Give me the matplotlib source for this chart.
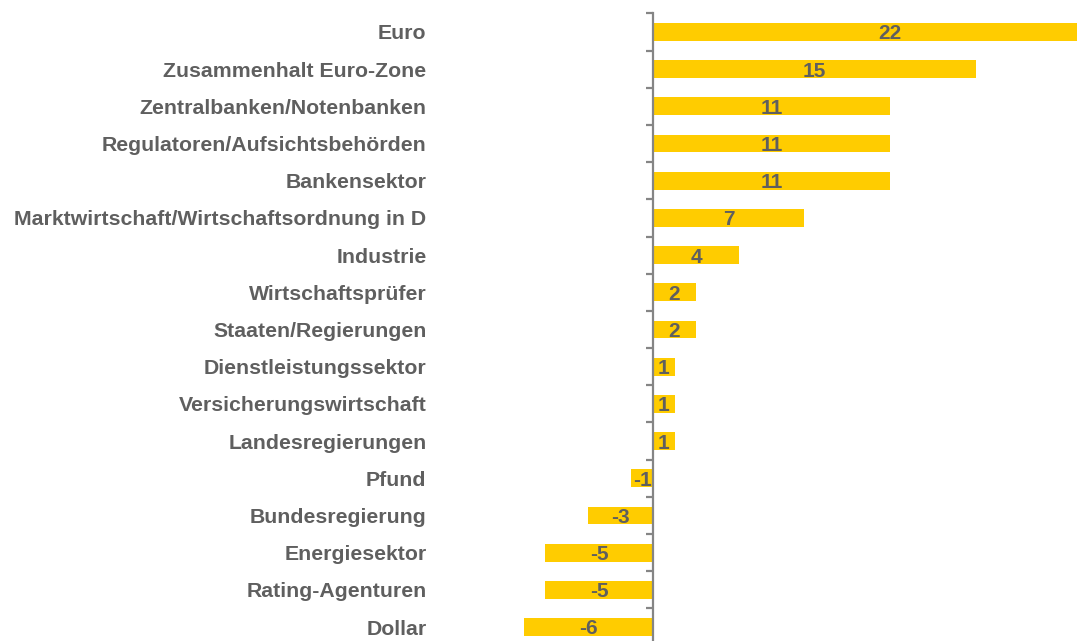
import numpy as np
import matplotlib
matplotlib.use("Agg")
import matplotlib.pyplot as plt

categories = ["Euro", "Zusammenhalt Euro-Zone", "Zentralbanken/Notenbanken",
              "Regulatoren/Aufsichtsbehörden", "Bankensektor",
              "Marktwirtschaft/Wirtschaftsordnung in D", "Industrie",
              "Wirtschaftsprüfer", "Staaten/Regierungen", "Dienstleistungssektor",
              "Versicherungswirtschaft", "Landesregierungen", "Pfund",
              "Bundesregierung", "Energiesektor", "Rating-Agenturen", "Dollar"]
values = [22, 15, 11, 11, 11, 7, 4, 2, 2, 1, 1, 1, -1, -3, -5, -5, -6]

bar_color = "#FFCC00"
text_color = "#5f5f5f"
axis_color = "#858585"

plt.rcParams["font.family"] = ["Liberation Sans", "DejaVu Sans"]

W, H = 1077, 641
fig = plt.figure(figsize=(W / 100, H / 100), dpi=100)

# axes placed in pixel terms: 0 at x=653, 21.55 px per unit
px_unit = 21.55
left_px = 431
top_px = 13.4
bottom_px = 645.6
ax = fig.add_axes([left_px / W, 1 - bottom_px / H, 1 - left_px / W, (bottom_px - top_px) / H])

y = np.arange(len(categories))
ax.barh(y, values, height=0.48, color=bar_color)

# baseline shifted down so the digits sit centred on the bar
for yi, v in zip(y, values):
    ax.text(v / 2, yi + 0.2, str(v), ha="center", va="baseline",
            fontsize=15, fontweight="bold", color=text_color)

ax.set_xlim(-(653 - left_px) / px_unit, (W - 653) / px_unit)
ax.set_ylim(len(categories) - 0.5, -0.5)

for s in ["top", "right", "bottom"]:
    ax.spines[s].set_visible(False)
ax.spines["left"].set_position(("data", 0))
ax.spines["left"].set_color(axis_color)
ax.spines["left"].set_linewidth(1.6)
ax.set_xticks([])

# tick marks between categories, labels at category centres
ax.set_yticks(np.arange(len(categories) + 1) - 0.5)
ax.set_yticklabels([])
ax.tick_params(axis="y", which="major", length=5, width=1.6, color=axis_color)
ax.set_yticks(y, minor=True)
ax.set_yticklabels(categories, minor=True, fontsize=15.3, fontweight="bold",
                   color=text_color)
ax.tick_params(axis="y", which="minor", length=0, pad=163)

fig.savefig("out.png", dpi=100)
